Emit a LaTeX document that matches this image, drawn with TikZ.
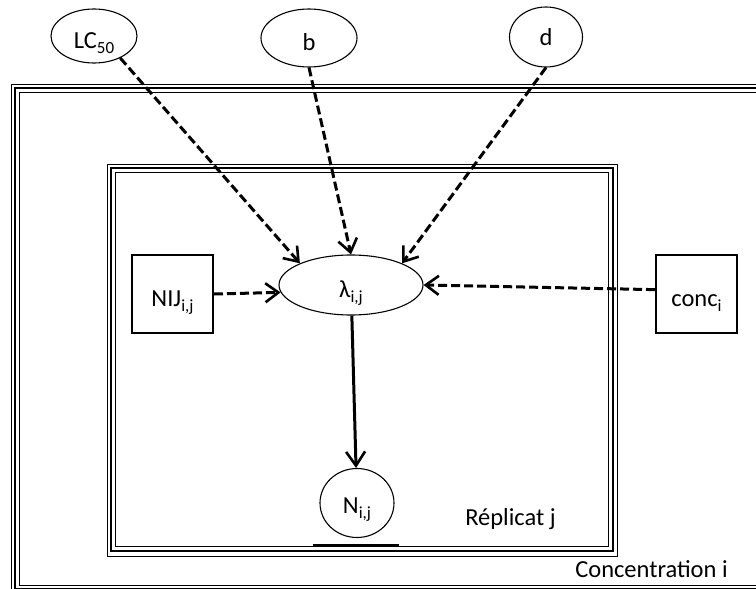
\documentclass[tikz,border=0pt]{standalone}
\usepackage{fontspec}
\setmainfont{Carlito}
\usetikzlibrary{arrows.meta,shapes.geometric}
\newcommand{\mysub}[1]{\raisebox{-0.22em}[0pt][0pt]{\fontsize{17}{17}\selectfont #1}}
\begin{document}
\begin{tikzpicture}[x=1pt,y=-1pt,
  every node/.style={font=\fontsize{24.5}{29}\selectfont},
  param/.style={draw,ellipse,line width=1.1pt,inner sep=0pt,text height=25pt,text depth=0pt},
  datum/.style={draw,rectangle,line width=2pt,inner sep=0pt,minimum width=81pt,minimum height=78pt,text height=24pt,text depth=0pt},
  dep/.style={line width=3pt,dash pattern=on 9pt off 4pt,-{Straight Barb[length=13pt,width=19pt,line width=2.6pt]}},
  link/.style={line width=3pt,-{Straight Barb[length=14pt,width=19pt,line width=2.6pt]}},
  thinframe/.style={line width=0.9pt},
  thickframe/.style={line width=1.8pt}]
\useasboundingbox (0,0) rectangle (756,589);
% outer plate
\draw[thinframe] (11,84) rectangle (800,593);
\draw[thickframe] (15,88) rectangle (796,589);
\draw[thinframe] (19.5,92) rectangle (792,585);
% inner plate
\draw[thinframe] (107,164) rectangle (617,556);
\draw[thickframe] (111,168) rectangle (613,551);
\draw[thinframe] (115,172) rectangle (608.5,546);
\draw[line width=2.5pt] (313,545) -- (399,545);
% nodes
\node[param,minimum width=86pt,minimum height=54pt] (lc) at (94,36) {LC\mysub{50}};
\node[param,minimum width=96pt,minimum height=58pt] (b) at (309,38) {b};
\node[param,minimum width=73pt,minimum height=60pt,text height=17pt] (d) at (546,37) {d};
\node[param,minimum width=144pt,minimum height=60pt] (lam) at (351,285) {λ\mysub{i,j}};
\node[param,minimum width=74pt,minimum height=69pt,text height=20pt] (n) at (357,503) {N\mysub{i,j}};
\node[datum] (nij) at (172.5,294) {NIJ\mysub{i,j}};
\node[datum] (conc) at (696.5,294) {conc\mysub{i}};
% edges
\draw[dep] (lc.-40) -- (lam.157);
\draw[dep] (b.south) -- (lam.90);
\draw[dep] (d.south) -- (lam.23);
\draw[dep] (nij.east) -- (lam.186);
\draw[dep] (conc.174) -- (lam.east);
\draw[link] (lam) -- (n);
% labels
\node (rep) at (510.5,519) {Réplicat j};
\node (conci) at (651.5,569) {Concentration i};
\end{tikzpicture}
\end{document}
